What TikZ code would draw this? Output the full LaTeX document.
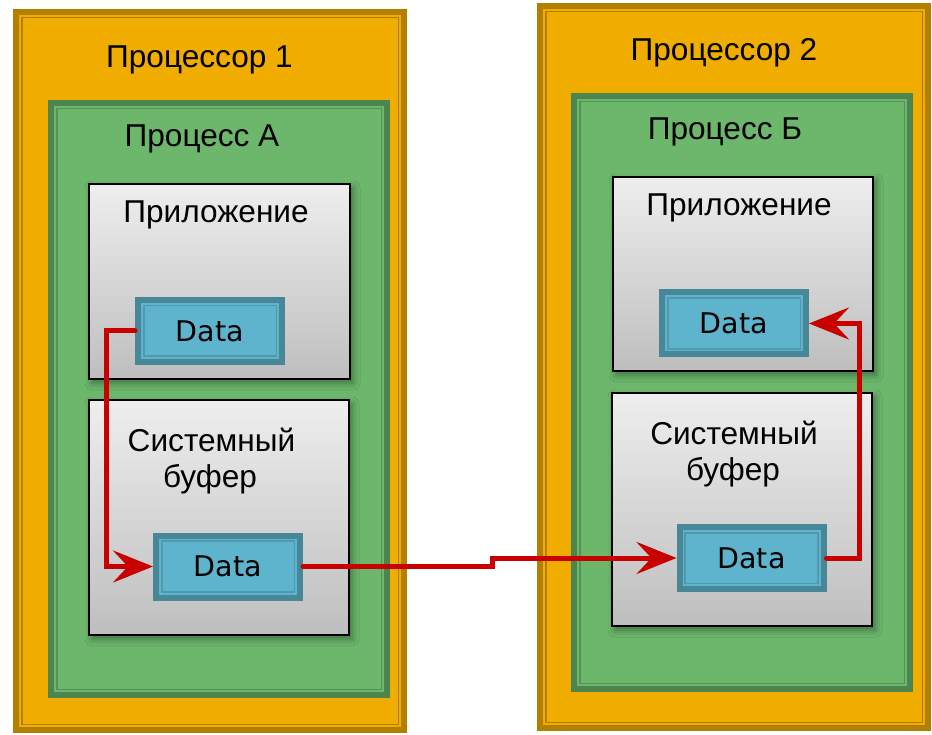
\documentclass[tikz,border=0pt]{standalone}
\usepackage{fontspec}
\setmainfont{Liberation Sans}
\newfontfamily\datafont{DejaVu Sans}
\usetikzlibrary{arrows.meta,shadows.blur}

\definecolor{cpufill}{RGB}{240,173,0}
\definecolor{cpuline}{RGB}{178,127,0}
\definecolor{procfill}{RGB}{108,183,108}
\definecolor{procline}{RGB}{76,133,80}
\definecolor{datafill}{RGB}{94,180,205}
\definecolor{dataline}{RGB}{72,135,152}
\definecolor{flowred}{RGB}{200,0,0}
\definecolor{boxtop}{RGB}{238,238,238}
\definecolor{boxbottom}{RGB}{190,190,190}

\begin{document}
\begin{tikzpicture}[x=1pt,y=-1pt,
        framed/.style n args={3}{rectangle,fill=#1,draw=#2,line width=6pt,inner sep=0pt,
          path picture={\draw[#3,line width=1.6pt]
            ([shift={(5.7,5.7)}]path picture bounding box.north west) rectangle
            ([shift={(-5.7,-5.7)}]path picture bounding box.south east);}},
        cpu/.style={framed={cpufill}{cpuline}{cpuline},minimum width=388pt},
        proc/.style={framed={procfill}{procline}{procline!75!procfill},minimum width=336pt},
        layer/.style={rectangle,draw=black,line width=2pt,inner sep=0pt,
          top color=boxtop,bottom color=boxbottom,minimum width=260pt,
          blur shadow={shadow xshift=3pt,shadow yshift=-4pt,shadow blur radius=7pt,shadow opacity=40}},
        dat/.style={framed={datafill}{dataline}{dataline!60!datafill},
          font=\datafont\fontsize{28.5}{34}\selectfont,minimum width=144pt,minimum height=62pt},
        lbl/.style={font=\fontsize{31.6}{36}\selectfont,inner sep=0pt,anchor=base},
        flow/.style={draw=flowred,line width=5pt,line cap=round,
          -{Stealth[length=40pt,width=32pt,inset=15pt]}}]
  \useasboundingbox (0,0) rectangle (932,735);

  % processors
  \node[cpu,minimum height=718pt] (cpu1) at (210,371) {};
  \node[cpu,minimum height=722pt] (cpu2) at (734,367) {};

  % processes
  \node[proc,minimum height=592pt] (procA) at (219,399) {};
  \node[proc,minimum height=593pt] (procB) at (742,392.5) {};

  % application and system buffer
  \node[layer,minimum width=261pt,minimum height=195pt] (appA) at (219.5,281.5) {};
  \node[layer,minimum height=235pt] (bufA) at (219,517.5) {};
  \node[layer,minimum height=194pt] (appB) at (743,274) {};
  \node[layer,minimum height=233pt] (bufB) at (742,509.5) {};

  % data
  \node[dat] (dataA1) at (210,331) {Data};
  \node[dat] (dataA2) at (228,566.5) {Data};
  \node[dat] (dataB1) at (734,323.5) {Data};
  \node[dat] (dataB2) at (751.5,558) {Data};

  % labels
  \node[lbl] (cpu1name) at (199.5,68) {Процессор 1};
  \node[lbl] (cpu2name) at (724,61) {Процессор 2};
  \node[lbl] (procAname) at (202,147) {Процесс А};
  \node[lbl] (procBname) at (725,140) {Процесс Б};
  \node[lbl] (appAname) at (216,223) {Приложение};
  \node[lbl] (appBname) at (739,216) {Приложение};
  \node[lbl] (bufAname1) at (211.5,451) {Системный};
  \node[lbl] (bufAname2) at (210,487) {буфер};
  \node[lbl] (bufBname1) at (734,444) {Системный};
  \node[lbl] (bufBname2) at (733,480) {буфер};

  % data flow
  \draw[flow] (dataA1.west) -- ++(-29,0) |- (dataA2.west);
  \draw[flow] (dataA2.east) -- ++(189,0) |- (dataB2.west);
  \draw[flow] (dataB2.east) -- ++(33,0) |- (dataB1.east);
\end{tikzpicture}
\end{document}
